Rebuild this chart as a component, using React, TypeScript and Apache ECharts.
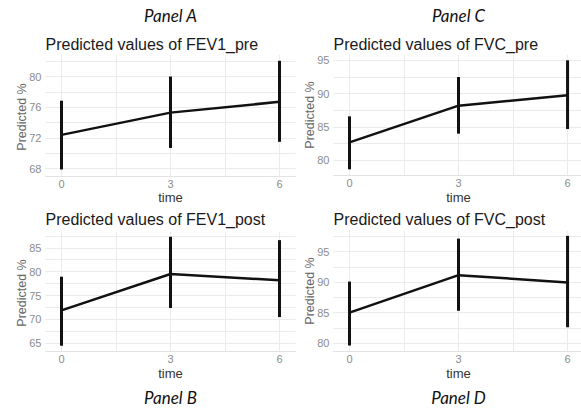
import React, { useEffect, useRef } from "react";
import * as echarts from "echarts";

// ---- data ----
const times = [0, 3, 6];
const xMajorTicks = [0, 3, 6];
const xMinorTicks = [1.5, 4.5];

const fev1PreMean = [72.4, 75.3, 76.7];
const fev1PreLow = [67.9, 70.7, 71.5];
const fev1PreHigh = [76.85, 80.0, 82.05];
const fev1PreMajor = [68, 72, 76, 80];
const fev1PreMinor = [70, 74, 78, 82];

const fev1PostMean = [71.9, 79.5, 78.2];
const fev1PostLow = [64.5, 72.4, 70.5];
const fev1PostHigh = [78.95, 87.3, 86.6];
const fev1PostMajor = [65, 70, 75, 80, 85];
const fev1PostMinor = [67.5, 72.5, 77.5, 82.5, 87.5];

const fvcPreMean = [82.7, 88.2, 89.75];
const fvcPreLow = [78.65, 84.0, 84.7];
const fvcPreHigh = [86.6, 92.5, 95.0];
const fvcPreMajor = [80, 85, 90, 95];
const fvcPreMinor = [82.5, 87.5, 92.5];

const fvcPostMean = [85.0, 91.15, 89.95];
const fvcPostLow = [79.6, 85.3, 82.6];
const fvcPostHigh = [90.1, 97.15, 97.6];
const fvcPostMajor = [80, 85, 90, 95];
const fvcPostMinor = [82.5, 87.5, 92.5, 97.5];

const titles = [
  "Predicted values of FEV1_pre",
  "Predicted values of FVC_pre",
  "Predicted values of FEV1_post",
  "Predicted values of FVC_post",
];
const panelLabels = ["Panel A", "Panel C", "Panel B", "Panel D"];
const yAxisTitle = "Predicted %";
const xAxisTitle = "time";

// ---- layout ----
const panels = [
  { mean: fev1PreMean, low: fev1PreLow, high: fev1PreHigh, major: fev1PreMajor, minor: fev1PreMinor,
    grid: { left: 45.5, top: 55, width: 250, height: 121 }, yMin: 67.05, yMax: 82.8, xMax: 6.44,
    titleY: 44, labelY: 15, nameX: 21.5, nameY: 117, timeY: 197 },
  { mean: fvcPreMean, low: fvcPreLow, high: fvcPreHigh, major: fvcPreMajor, minor: fvcPreMinor,
    grid: { left: 333.5, top: 55, width: 247.5, height: 120 }, yMin: 77.8, yMax: 95.8, xMax: 6.37,
    titleY: 44, labelY: 15, nameX: 309.7, nameY: 115, timeY: 197 },
  { mean: fev1PostMean, low: fev1PostLow, high: fev1PostHigh, major: fev1PostMajor, minor: fev1PostMinor,
    grid: { left: 45.5, top: 232, width: 250, height: 119 }, yMin: 63.4, yMax: 88.3, xMax: 6.44,
    titleY: 219.5, labelY: 397, nameX: 21.5, nameY: 293, timeY: 373.5 },
  { mean: fvcPostMean, low: fvcPostLow, high: fvcPostHigh, major: fvcPostMajor, minor: fvcPostMinor,
    grid: { left: 333.5, top: 231, width: 247.5, height: 120 }, yMin: 78.7, yMax: 98.4, xMax: 6.37,
    titleY: 219.5, labelY: 397, nameX: 309.7, nameY: 291, timeY: 373.5 },
];

const FONT = "'Liberation Sans', Arial, sans-serif";
const GRID_COLOR = "#ebebeb";
const AXIS_COLOR = "#e2e2e2";
const TICK_COLOR = "#8c8c8c";

export default function App() {
  const ref = useRef<HTMLDivElement>(null);

  useEffect(() => {
    document.body.style.margin = "0";
    if (!ref.current) return;
    const chart = echarts.init(ref.current, null, { renderer: "svg" });

    const grids: any[] = [];
    const xAxes: any[] = [];
    const yAxes: any[] = [];
    const series: any[] = [];
    const graphics: any[] = [];

    panels.forEach((p, i) => {
      const pxPerUnit = p.grid.width / (p.xMax + 0.44);
      grids.push({ ...p.grid, outerBoundsMode: "none", containLabel: false });
      xAxes.push({
        type: "value",
        gridIndex: i,
        min: -0.44,
        max: p.xMax,
        axisLine: { show: true, onZero: false, lineStyle: { color: AXIS_COLOR, width: 1 } },
        axisTick: { show: false, customValues: xMajorTicks },
        splitLine: { show: false },
        axisLabel: {
          customValues: xMajorTicks,
          color: TICK_COLOR,
          fontSize: 11,
          fontFamily: FONT,
          margin: 2,
        },
      });
      yAxes.push({
        type: "value",
        gridIndex: i,
        min: p.yMin,
        max: p.yMax,
        axisLine: { show: true, lineStyle: { color: AXIS_COLOR, width: 1 } },
        axisTick: { show: false, customValues: p.major },
        splitLine: { show: false },
        axisLabel: {
          customValues: p.major,
          color: TICK_COLOR,
          fontSize: 11,
          fontFamily: FONT,
          margin: 4,
        },
      });

      const gridLineData = [
        ...p.major.map((v) => ({ yAxis: v })),
        ...p.minor.map((v) => ({ yAxis: v })),
        ...xMajorTicks.map((v) => ({ xAxis: v })),
        ...xMinorTicks.map((v) => ({ xAxis: v })),
      ];

      series.push({
        type: "line",
        xAxisIndex: i,
        yAxisIndex: i,
        data: times.map((t, k) => [t, p.mean[k]]),
        symbol: "none",
        lineStyle: { opacity: 0 },
        silent: true,
        z: 1,
        markLine: {
          silent: true,
          symbol: ["none", "none"],
          label: { show: false },
          z: 1,
          lineStyle: { color: GRID_COLOR, type: "solid", width: 1 },
          data: gridLineData,
        },
      });

      series.push({
        type: "line",
        xAxisIndex: i,
        yAxisIndex: i,
        data: times.map((t, k) => [t, p.mean[k]]),
        symbol: "none",
        lineStyle: { color: "#111111", width: 2.5 },
        z: 3,
      });

      series.push({
        type: "custom",
        xAxisIndex: i,
        yAxisIndex: i,
        data: times.map((t, k) => [t, p.low[k], p.high[k]]),
        encode: { x: 0, y: [1, 2] },
        z: 4,
        renderItem: (_params: any, api: any) => {
          const x = api.value(0);
          const lo = api.coord([x, api.value(1)]);
          const hi = api.coord([x, api.value(2)]);
          return {
            type: "line",
            shape: { x1: lo[0], y1: lo[1], x2: hi[0], y2: hi[1] },
            style: { stroke: "#111111", lineWidth: 3 },
          };
        },
      });

      // texts
      graphics.push({
        type: "text",
        x: p.grid.left,
        y: p.titleY,
        style: {
          text: titles[i],
          font: `16px ${FONT}`,
          fill: "#1a1a1a",
          textAlign: "left",
          textVerticalAlign: "middle",
        },
      });
      graphics.push({
        type: "text",
        x: p.grid.left + (3 + 0.44) * pxPerUnit,
        y: p.labelY,
        style: {
          text: panelLabels[i],
          font: `italic 17px Lato, 'Open Sans', sans-serif`,
          fill: "#111111",
          textAlign: "center",
          textVerticalAlign: "middle",
        },
      });
      graphics.push({
        type: "text",
        x: p.nameX,
        y: p.nameY,
        rotation: Math.PI / 2,
        style: {
          text: yAxisTitle,
          font: `12.5px ${FONT}`,
          fill: "#666666",
          textAlign: "center",
          textVerticalAlign: "middle",
        },
      });
      graphics.push({
        type: "text",
        x: p.grid.left + (3 + 0.44) * pxPerUnit,
        y: p.timeY,
        style: {
          text: xAxisTitle,
          font: `13px ${FONT}`,
          fill: "#333333",
          textAlign: "center",
          textVerticalAlign: "middle",
        },
      });
    });

    chart.setOption({
      animation: false,
      backgroundColor: "#ffffff",
      grid: grids,
      xAxis: xAxes,
      yAxis: yAxes,
      series,
      graphic: graphics,
    });

    return () => chart.dispose();
  }, []);

  return (
    <div
      ref={ref}
      style={{ position: "absolute", left: 0, top: 0, width: 581, height: 410 }}
    />
  );
}
